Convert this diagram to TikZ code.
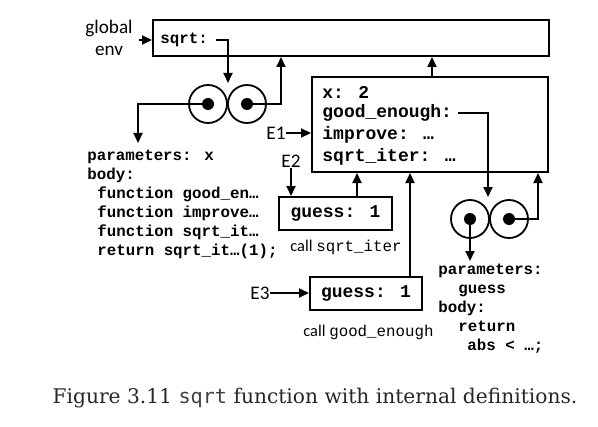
\documentclass[tikz,border=0pt]{standalone}
\usepackage{fontspec}
\setmainfont{DejaVu Serif}
\setsansfont{Carlito}
\setmonofont{Liberation Mono}
\newfontfamily\capmono{DejaVu Sans Mono}
\newfontfamily\callmono{Liberation Mono}
\usetikzlibrary{arrows.meta}

\tikzset{
  frame/.style={draw,line width=1pt,inner sep=0pt},
  code/.style={font=\ttfamily\bfseries\fontsize{7.9}{9.5}\selectfont,anchor=west,inner sep=0pt},
  bigcode/.style={code,font=\ttfamily\bfseries\fontsize{9}{10}\selectfont},
  lbl/.style={font=\sffamily\fontsize{9.6}{11}\selectfont,inner sep=0pt},
  ptr/.style={-{Triangle[length=5pt,width=4.5pt]},line width=0.9pt},
  cell/.style={circle,draw,line width=0.9pt,minimum size=19pt,inner sep=0pt},
  dot/.style={circle,fill,minimum size=6pt,inner sep=0pt},
}

\begin{document}
\begin{tikzpicture}[x=0.5pt,y=-0.5pt]
  \useasboundingbox (0,0) rectangle (598,427);

  % frames
  \node[frame,minimum width=198pt,minimum height=18pt] (glob) at (351,38) {};
  \node[frame,minimum width=118pt,minimum height=47.5pt] (e1) at (430,124.5) {};
  \node[frame,minimum width=56.5pt,minimum height=16.5pt] (e2) at (335.5,213.5) {};
  \node[frame,minimum width=56pt,minimum height=16.5pt] (e3) at (366,293.5) {};

  % texts in frames
  \node[code] (sq) at (160,40) {sqrt:};
  \node[bigcode] (x) at (322,92) {x: 2};
  \node[bigcode] (ge) at (322,113) {good\_enough:};
  \node[bigcode] (imp) at (322,135) {improve: …};
  \node[bigcode] (si) at (322,157) {sqrt\_iter: …};
  \node[bigcode,anchor=center] (g2) at (e2) {guess: 1};
  \node[bigcode,anchor=center] (g3) at (e3) {guess: 1};

  % labels
  \node[lbl,align=center] (genv) at (109,38) {global\\env};
  \node[lbl] (e1lab) at (276,133) {E1};
  \node[lbl] (e2lab) at (291,161) {E2};
  \node[lbl] (e3lab) at (260,293) {E3};
  \node[lbl,anchor=west,font=\sffamily\fontsize{8.2}{9}\selectfont] (c2) at (290,247) {call {\callmono\fontsize{7.9}{9}\selectfont sqrt\_iter}};
  \node[lbl,anchor=west,font=\sffamily\fontsize{8.2}{9}\selectfont] (c3) at (303,332) {call {\callmono\fontsize{7.9}{9}\selectfont good\_enough}};

  % function objects
  \node[cell] (cl1) at (208,104) {};
  \node[cell] (cr1) at (247,104) {};
  \node[dot] at (cl1) {};
  \node[dot] at (cr1) {};
  \node[cell] (cl2) at (470,219) {};
  \node[cell] (cr2) at (509,219) {};
  \node[dot] at (cl2) {};
  \node[dot] at (cr2) {};
  \coordinate (t1) at (228,83);
  \coordinate (t2) at (488,197);
  \coordinate (a1) at (138,143);
  \coordinate (a2) at (470,261);

  \node[code,anchor=north west,align=left] (par1) at (87,150)
    {parameters: x\\body:\\
     \hspace*{5pt}function good\_en…\\
     \hspace*{5pt}function improve…\\
     \hspace*{5pt}function sqrt\_it…\\
     \hspace*{5pt}return sqrt\_it…(1);};
  \node[code,anchor=north west,align=left] (par2) at (438,264)
    {parameters:\\\hspace*{10pt}guess\\body:\\
     \hspace*{10pt}return\\\hspace*{14.5pt}abs < …;};

  % pointers
  \draw[ptr] ([xshift=3pt]genv.east |- sq) -- (glob.west |- sq);
  \draw[ptr] ([xshift=4pt]sq.east) -| (t1);
  \draw[ptr] (cl1.center) -| (a1);
  \draw[ptr] (cr1.center) -| ([xshift=64.5pt]glob.south west);
  \draw[ptr] ([xshift=1pt]e1.north) -- ([xshift=1pt]e1.north |- glob.south);
  \draw[ptr] (e1lab.east) -- (e1.west |- e1lab);
  \draw[ptr] ([xshift=3pt]ge.east) -| (t2);
  \draw[ptr] (cl2.center) -- (a2);
  \draw[ptr] (cr2.center) -| ([xshift=-5.5pt]e1.south east);
  \draw[ptr] (e2lab.south) -- (e2lab.south |- e2.north);
  \draw[ptr] ([xshift=10.75pt]e2.north) -- ([xshift=10.75pt]e2.north |- e1.south);
  \draw[ptr] (e3lab.east) -- (e3.west |- e3lab);
  \draw[ptr] ([xshift=22pt]e3.north) -- ([xshift=22pt]e3.north |- e1.south);

  % caption
  \node[text=black!85,font=\fontsize{10.1}{12}\selectfont] (cap) at (315,398)
    {Figure 3.11 {\capmono\color{black!75}sqrt} function with internal definitions.};
\end{tikzpicture}
\end{document}
